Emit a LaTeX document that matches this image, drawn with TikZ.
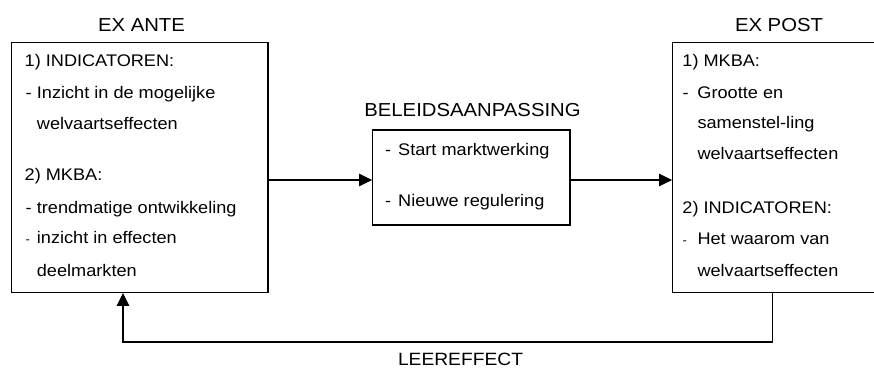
\documentclass[tikz,border=0pt]{standalone}
\usepackage{fontspec}
\setmainfont{Liberation Sans}[FakeStretch=1.08]
\usetikzlibrary{arrows.meta}
\newcommand\bodyfont{\fontsize{16.8}{20}\selectfont}
\newcommand\headfont{\fontsize{18.8}{22}\selectfont}
\newcommand\dsh[1]{\makebox[#1][l]{-}}
\newcommand\smdsh[1]{\makebox[#1][l]{\fontsize{12}{12}\selectfont -}}
\begin{document}
\begin{tikzpicture}[x=1pt,y=-1pt,
  box/.style={draw,line width=1.3pt,inner sep=0pt},
  txt/.style={anchor=base west,inner sep=0pt,font=\bodyfont},
  head/.style={anchor=base,inner sep=0pt,font=\headfont},
  arr/.style={line width=1.2pt,-{Triangle[length=13pt,width=12.5pt]}}]
\useasboundingbox (0,0) rectangle (874,368);
% boxes
\node[box,minimum width=256.3pt,minimum height=249.6pt] (L) at (139.85,167.5) {};
\node[box,minimum width=197.3pt,minimum height=95pt] (M) at (471.35,177.5) {};
\node[box,minimum width=201.8pt,minimum height=249.6pt] (R) at (773.6,167.5) {};
% headings
\node[head] (hL) at (141.5,31.7) {EX ANTE};
\node[head] (hR) at (779,31.7) {EX POST};
\node[head] (hM) at (472.5,116.5) {BELEIDSAANPASSING};
\node[head,font=\fontsize{17.8}{21}\selectfont] (hF) at (460.5,365) {LEEREFFECT};
% left box text
\node[txt] (l1) at (24.5,66.5) {1) INDICATOREN:};
\node[txt] (l2) at (25.5,98.5) {\dsh{11.2pt}Inzicht in de mogelijke};
\node[txt] (l3) at (36.7,129.5) {welvaartseffecten};
\node[txt] (l4) at (24.5,180) {2) MKBA:};
\node[txt] (l5) at (25.5,213) {\dsh{11.2pt}trendmatige ontwikkeling};
\node[txt] (l6) at (25.5,243.5) {\smdsh{11.2pt}inzicht in effecten};
\node[txt] (l7) at (36.7,276.5) {deelmarkten};
% middle box text
\node[txt] (m1) at (385,155) {\dsh{13pt}Start marktwerking};
\node[txt] (m2) at (385,206.7) {\dsh{13pt}Nieuwe regulering};
% right box text
\node[txt] (r1) at (682.2,66.5) {1) MKBA:};
\node[txt] (r2) at (682.5,98.5) {\dsh{14.8pt}Grootte en};
\node[txt] (r3) at (697.3,128.5) {samenstel-ling};
\node[txt] (r4) at (697.3,159.5) {welvaartseffecten};
\node[txt] (r5) at (682.2,213) {2) INDICATOREN:};
\node[txt] (r6) at (682.5,244) {\smdsh{14.8pt}Het waarom van};
\node[txt] (r7) at (697.3,276.5) {welvaartseffecten};
% connectors
\coordinate (a) at (0,180);
\draw[arr] (L.east |- a) -- (M.west |- a);
\draw[arr] (M.east |- a) -- (R.west |- a);
\coordinate (fbr) at (772.5,342);
\coordinate (fbl) at (123,342);
\draw[arr] (R.south -| fbr) -- (fbr) -- (fbl) -- (L.south -| fbl);
\end{tikzpicture}
\end{document}
